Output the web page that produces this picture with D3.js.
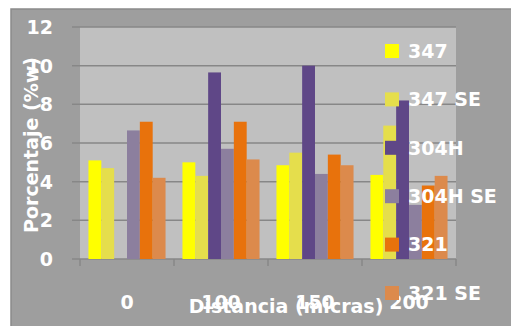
<!DOCTYPE html>
<html>
<head>
<meta charset="utf-8">
<script src="https://cdn.jsdelivr.net/npm/d3@7"></script>
<style>
  body { margin: 0; background: #ffffff; }
  text { font-family: "DejaVu Sans", sans-serif; font-weight: bold; fill: #ffffff; }
</style>
</head>
<body>
<div class="graph"></div>
<script>
//Bar chart: porcentaje vs distancia

var categories = ["0", "100", "150", "200"];
var seriesNames = ["347", "347 SE", "304H", "304H SE", "321", "321 SE"];
var seriesColors = ["#ffff00", "#e5de4c", "#5f4787", "#8c7f9e", "#e8720c", "#dc8a4c"];
var yTicks = [0, 2, 4, 6, 8, 10, 12];

var s347   = [5.1, 5.0, 4.85, 4.35];
var s347se = [4.7, 4.3, 5.5, 6.9];
var s304h  = [null, 9.65, 10.0, 8.2];
var s304hse = [6.65, 5.7, 4.4, 2.8];
var s321   = [7.1, 7.1, 5.4, 3.8];
var s321se = [4.2, 5.15, 4.85, 4.3];

var allValues = [s347, s347se, s304h, s304hse, s321, s321se];

let svg = d3.select(".graph").append("svg")
    .attr("width", 511)
    .attr("height", 326);

// outer chart area
svg.append("rect")
    .attr("x", 11).attr("y", 9)
    .attr("width", 502).attr("height", 320)
    .attr("fill", "#9e9e9e")
    .attr("stroke", "#8a8a8a")
    .attr("stroke-width", 1.5);

let x0 = d3.scaleBand().domain(categories).range([80, 456]);
let bw = x0.bandwidth();
let x1 = d3.scaleBand().domain(seriesNames).range([bw * 0.09, bw * 0.91]);
let y = d3.scaleLinear().domain([0, 12]).range([259, 27]);

// plot area
svg.append("rect")
    .attr("x", 80).attr("y", y(12))
    .attr("width", 376).attr("height", y(0) - y(12))
    .attr("fill", "#c0c0c0");

// gridlines + left ticks
svg.append("g").selectAll("line")
    .data(yTicks)
    .join("line")
    .attr("x1", 72).attr("x2", 456)
    .attr("y1", d => y(d)).attr("y2", d => y(d))
    .attr("stroke", "#878787")
    .attr("stroke-width", 1.5);

// bottom category ticks
svg.append("g").selectAll("line")
    .data(categories.concat(["end"]))
    .join("line")
    .attr("x1", (d, i) => i < categories.length ? x0(d) : 456)
    .attr("x2", (d, i) => i < categories.length ? x0(d) : 456)
    .attr("y1", y(0)).attr("y2", y(0) + 7)
    .attr("stroke", "#878787")
    .attr("stroke-width", 1.5);

// bars
seriesNames.forEach(function(name, si) {
    svg.append("g").selectAll("rect")
        .data(allValues[si].map((v, ci) => ({cat: categories[ci], v: v})).filter(d => d.v != null))
        .join("rect")
        .attr("x", d => x0(d.cat) + x1(name))
        .attr("width", x1.bandwidth())
        .attr("y", d => y(d.v))
        .attr("height", d => y(0) - y(d.v))
        .attr("fill", seriesColors[si]);
});

// y tick labels
svg.append("g").selectAll("text")
    .data(yTicks)
    .join("text")
    .attr("x", 53)
    .attr("y", d => y(d))
    .attr("dy", "0.36em")
    .attr("text-anchor", "end")
    .attr("font-size", 19)
    .text(d => d);

// x tick labels
svg.append("g").selectAll("text")
    .data(categories)
    .join("text")
    .attr("x", d => x0(d) + bw / 2)
    .attr("y", 309)
    .attr("text-anchor", "middle")
    .attr("font-size", 19)
    .text(d => d);

// axis titles
svg.append("text")
    .attr("transform", "translate(38,145) rotate(-90)")
    .attr("text-anchor", "middle")
    .attr("font-size", 19)
    .text("Porcentaje (%w)");

svg.append("text")
    .attr("x", 286)
    .attr("y", 313)
    .attr("text-anchor", "middle")
    .attr("font-size", 19)
    .text("Distancia (micras)");

// legend
let legend = svg.append("g").selectAll("g")
    .data(seriesNames)
    .join("g")
    .attr("transform", (d, i) => "translate(385," + (51 + i * 48.4) + ")");

legend.append("rect")
    .attr("x", 0).attr("y", -7)
    .attr("width", 14).attr("height", 14)
    .attr("fill", (d, i) => seriesColors[i]);

legend.append("text")
    .attr("x", 23)
    .attr("dy", "0.36em")
    .attr("font-size", 19)
    .text(d => d);
</script>
</body>
</html>
